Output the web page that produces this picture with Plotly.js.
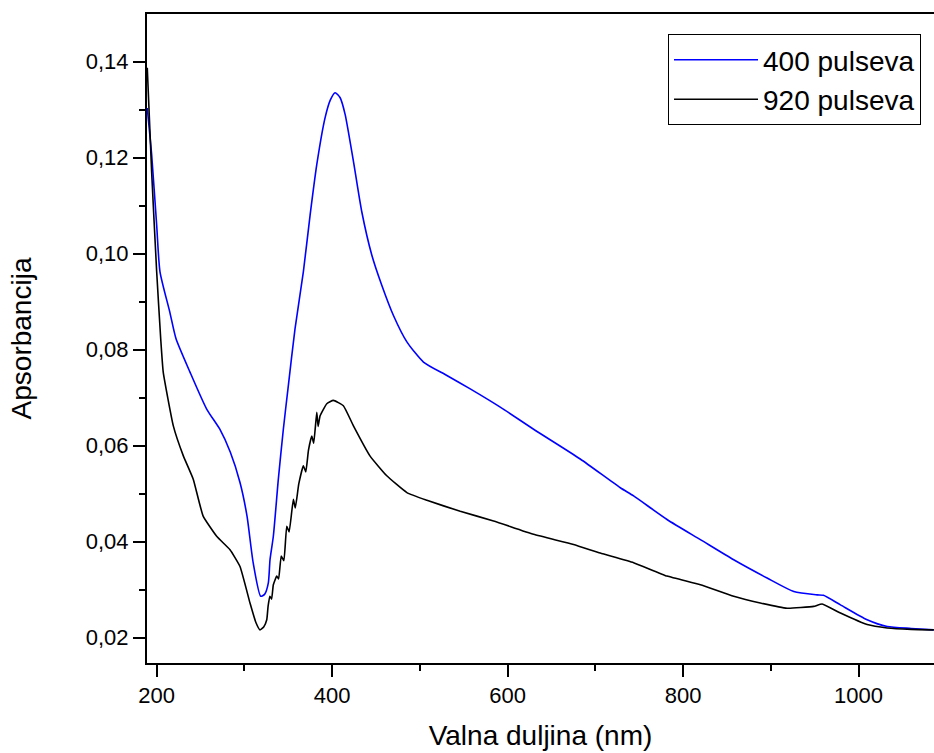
<!DOCTYPE html>
<html>
<head>
<meta charset="utf-8">
<script src="https://cdn.plot.ly/plotly-3.0.1.min.js"></script>
<style>
html,body{margin:0;padding:0;background:#fff;overflow:hidden;}
#chart{width:934px;height:753px;}
</style>
</head>
<body>
<div id="chart"></div>
<script>
// 400 pulseva
var wl400 = [189.3, 194.3, 200, 203.8, 215, 222, 238, 257, 272, 284, 295, 303, 310, 318.6, 323, 327.3, 329.2, 333, 338.7, 344.4, 350.1, 357.7, 367.2, 374.9, 382.5, 392, 398, 403.4, 409, 414.8, 424.3, 433.8, 445.2, 456.6, 469.9, 485.2, 504.1, 530.8, 557.4, 591.6, 629.6, 682.8, 728.5, 743.6, 781.7, 819.7, 857.7, 895.8, 926.2, 952.8, 960, 979.4, 1009.8, 1032.7, 1060, 1085.8];
var abs400 = [0.1303, 0.1206, 0.106, 0.0962, 0.0878, 0.0823, 0.0753, 0.0676, 0.0634, 0.0586, 0.0523, 0.0453, 0.0356, 0.0286, 0.0290, 0.0314, 0.0362, 0.0411, 0.053, 0.0634, 0.0725, 0.0843, 0.0962, 0.108, 0.1185, 0.1283, 0.1320, 0.1335, 0.1325, 0.129, 0.1192, 0.1087, 0.0997, 0.0934, 0.0871, 0.0816, 0.0774, 0.0746, 0.0718, 0.068, 0.0634, 0.0572, 0.0512, 0.0495, 0.0446, 0.0404, 0.0362, 0.0324, 0.0296, 0.0289, 0.0288, 0.0268, 0.0237, 0.0223, 0.0219, 0.0216];

// 920 pulseva
var wl920 = [189.3, 194.3, 200, 204.6, 207.5, 219, 230.3, 241.7, 253, 268.4, 283.6, 295, 306.4, 313, 317.8, 322, 325.5, 327, 329, 331, 333, 336.9, 339, 342, 345, 348.3, 351, 355.8, 358, 362, 367.2, 370, 373, 376.8, 379, 382.5, 384, 386.3, 393.9, 401.4, 412.8, 424.3, 443.3, 462.3, 485.2, 508, 546, 584, 629.6, 675.2, 705.6, 743.6, 781.7, 819.7, 857.7, 888, 918.6, 948.9, 958.5, 979.4, 1009.8, 1032.7, 1060, 1085.8];
var abs920 = [0.1387, 0.117, 0.0963, 0.0823, 0.0753, 0.0641, 0.0579, 0.053, 0.0453, 0.0411, 0.0383, 0.0348, 0.0272, 0.0232, 0.0216, 0.0222, 0.0237, 0.0265, 0.0286, 0.028, 0.031, 0.0328, 0.0322, 0.037, 0.036, 0.0432, 0.042, 0.0488, 0.047, 0.052, 0.0558, 0.0545, 0.059, 0.062, 0.0605, 0.0669, 0.064, 0.0662, 0.0687, 0.0694, 0.0683, 0.0641, 0.0578, 0.0537, 0.0502, 0.0486, 0.0463, 0.0443, 0.0415, 0.0394, 0.0376, 0.0356, 0.0328, 0.031, 0.0286, 0.0272, 0.0261, 0.0265, 0.027, 0.0251, 0.0227, 0.022, 0.0217, 0.0216];

var seriesNames = ['400 pulseva', '920 pulseva'];
var xTicks = [200, 400, 600, 800, 1000];
var yTicks = [0.02, 0.04, 0.06, 0.08, 0.10, 0.12, 0.14];

var traces = [
  {x: wl400, y: abs400, type: 'scatter', mode: 'lines', name: seriesNames[0],
   line: {color: '#0000ff', width: 1.6, shape: 'spline', smoothing: 0.6}},
  {x: wl920, y: abs920, type: 'scatter', mode: 'lines', name: seriesNames[1],
   line: {color: '#000000', width: 1.6, shape: 'spline', smoothing: 0.4}}
];

var font = 'Arial, "Liberation Sans", sans-serif';

var layout = {
  width: 934, height: 753,
  margin: {l: 147, r: 0, t: 14, b: 90, pad: 0},
  paper_bgcolor: '#fff', plot_bgcolor: '#fff',
  separators: ',.',
  showlegend: true,
  legend: {
    x: 0.9835, xanchor: 'right', y: 0.969, yanchor: 'top',
    bordercolor: '#000', borderwidth: 1, bgcolor: '#fff',
    font: {family: font, size: 28, color: '#000'},
    itemwidth: 84, tracegroupgap: 0
  },
  xaxis: {
    range: [189, 1086],
    tickvals: xTicks, ticktext: xTicks.map(String),
    ticks: 'outside', ticklen: 12, tickwidth: 2, tickcolor: '#000',
    minor: {dtick: 100, tick0: 100, ticks: 'outside', ticklen: 6, tickwidth: 2, tickcolor: '#000', showgrid: false},
    showline: true, linewidth: 2, linecolor: '#000', mirror: true,
    showgrid: false, zeroline: false,
    tickfont: {family: font, size: 22, color: '#000'},
    title: {text: 'Valna duljina (nm)', font: {family: font, size: 28, color: '#000'}, standoff: 18}
  },
  yaxis: {
    range: [0.0147, 0.1499],
    tickvals: yTicks, tickformat: '.2f',
    ticks: 'outside', ticklen: 12, tickwidth: 2, tickcolor: '#000',
    minor: {dtick: 0.01, tick0: 0.01, ticks: 'outside', ticklen: 6, tickwidth: 2, tickcolor: '#000', showgrid: false},
    showline: true, linewidth: 2, linecolor: '#000', mirror: false,
    showgrid: false, zeroline: false,
    tickfont: {family: font, size: 22, color: '#000'},
    title: {text: 'Apsorbancija', font: {family: font, size: 28, color: '#000'}, standoff: 46}
  }
};

Plotly.newPlot('chart', traces, layout, {displayModeBar: false, staticPlot: true});
</script>
</body>
</html>
